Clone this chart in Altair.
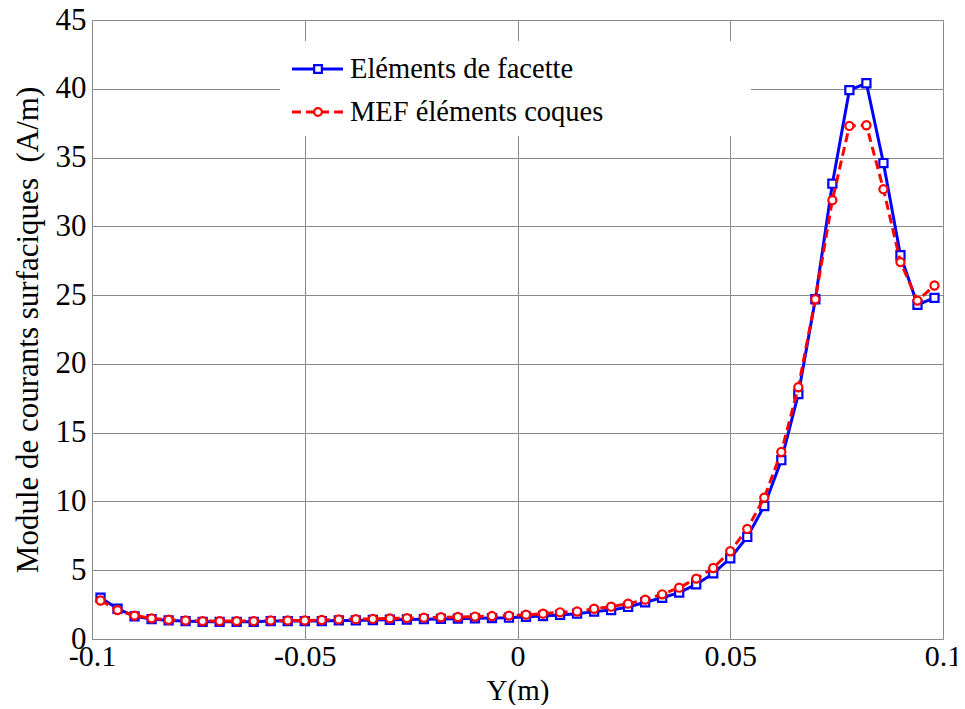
import altair as alt
import pandas as pd

# ---- data ----
x_vals = [-0.098, -0.094, -0.090, -0.086, -0.082, -0.078, -0.074, -0.070, -0.066, -0.062,
          -0.058, -0.054, -0.050, -0.046, -0.042, -0.038, -0.034, -0.030, -0.026, -0.022,
          -0.018, -0.014, -0.010, -0.006, -0.002, 0.002, 0.006, 0.010, 0.014, 0.018,
          0.022, 0.026, 0.030, 0.034, 0.038, 0.042, 0.046, 0.050, 0.054, 0.058,
          0.062, 0.066, 0.070, 0.074, 0.078, 0.082, 0.086, 0.090, 0.094, 0.098]

facette = [3.0, 2.2, 1.65, 1.45, 1.35, 1.3, 1.25, 1.25, 1.25, 1.25,
           1.3, 1.3, 1.3, 1.3, 1.35, 1.35, 1.38, 1.4, 1.42, 1.44,
           1.46, 1.48, 1.5, 1.52, 1.55, 1.62, 1.67, 1.75, 1.84, 1.99,
           2.1, 2.33, 2.67, 3.0, 3.37, 3.97, 4.77, 5.87, 7.42, 9.67,
           13.0, 17.8, 24.7, 33.1, 39.9, 40.4, 34.6, 27.9, 24.3, 24.8]

coques = [2.8, 2.1, 1.7, 1.5, 1.4, 1.35, 1.3, 1.3, 1.3, 1.3,
          1.35, 1.35, 1.35, 1.38, 1.42, 1.44, 1.46, 1.5, 1.52, 1.55,
          1.58, 1.6, 1.63, 1.67, 1.7, 1.77, 1.84, 1.94, 2.0, 2.2,
          2.35, 2.57, 2.86, 3.25, 3.73, 4.39, 5.16, 6.38, 8.0, 10.28,
          13.6, 18.3, 24.7, 31.9, 37.3, 37.35, 32.7, 27.4, 24.6, 25.7]

series_names = ["Eléments de facette", "MEF éléments coques"]
x_ticks = [-0.1, -0.05, 0, 0.05, 0.1]
y_ticks = [0, 5, 10, 15, 20, 25, 30, 35, 40, 45]

df_f = pd.DataFrame({"x": x_vals, "y": facette})
df_c = pd.DataFrame({"x": x_vals, "y": coques})

FONT = "Liberation Serif"
BLUE = "#0000ff"
RED = "#ff0000"

xs = alt.Scale(domain=[-0.1, 0.1], nice=False, zero=False)
ys = alt.Scale(domain=[0, 45], nice=False)

x_enc = alt.X("x:Q", scale=xs, title="Y(m)",
              axis=alt.Axis(values=x_ticks, labelExpr="'' + datum.value",
                            grid=True, gridColor="#8a8a8a", gridWidth=1,
                            ticks=False, domain=False, labelFont=FONT, labelFontSize=30,
                            labelColor="black", labelPadding=2, labelFlush=False,
                            labelOverlap=False, titleFont=FONT, titleFontSize=29,
                            titleFontWeight="normal", titleColor="black", titlePadding=5))
y_enc = alt.Y("y:Q", scale=ys, title="Module de courants surfaciques \u00a0(A/m)",
              axis=alt.Axis(values=y_ticks, grid=True, gridColor="#8a8a8a", gridWidth=1,
                            ticks=False, domain=False, labelFont=FONT, labelFontSize=31,
                            labelColor="black", labelPadding=6, labelFlush=False,
                            labelOverlap=False, titleFont=FONT, titleFontSize=31,
                            titleFontWeight="normal", titleColor="black", titlePadding=11))

line_f = alt.Chart(df_f).mark_line(color=BLUE, strokeWidth=3).encode(x=x_enc, y=y_enc)
pts_f = alt.Chart(df_f).mark_square(fill="white", stroke=BLUE, strokeWidth=2.2,
                                    size=66, opacity=1).encode(x="x:Q", y="y:Q")
line_c = alt.Chart(df_c).mark_line(color=RED, strokeWidth=3,
                                   strokeDash=[9, 5]).encode(x="x:Q", y="y:Q")
pts_c = alt.Chart(df_c).mark_circle(fill="white", stroke=RED, strokeWidth=2.2,
                                    size=66, opacity=1).encode(x="x:Q", y="y:Q")

# ---- legend (white box, sample lines with markers, labels) ----
leg_box = alt.Chart(pd.DataFrame({"a": [0]})).mark_rect(fill="white").encode(
    x=alt.value(188), x2=alt.value(659), y=alt.value(21), y2=alt.value(116))

legend_rows = [(series_names[0], BLUE, [1, 0], "square", 49),
               (series_names[1], RED, [9, 5], "circle", 92)]
leg_layers = [leg_box]
for name, col, dash, shp, yy in legend_rows:
    d = pd.DataFrame({"name": [name]})
    leg_layers.append(alt.Chart(d).mark_rule(color=col, strokeWidth=3, strokeDash=dash).encode(
        x=alt.value(200), x2=alt.value(251), y=alt.value(yy)))
    leg_layers.append(alt.Chart(d).mark_point(shape=shp, filled=True, fill="white", stroke=col,
                                              strokeWidth=2.2, size=60, opacity=1).encode(
        x=alt.value(226), y=alt.value(yy)))
    leg_layers.append(alt.Chart(d).mark_text(align="left", baseline="middle", font=FONT,
                                             fontSize=28.5, color="black").encode(
        x=alt.value(258), y=alt.value(yy), text="name:N"))

chart = alt.layer(line_f, pts_f, line_c, pts_c, *leg_layers).properties(
    width=851, height=619,
    autosize=alt.AutoSizeParams(type="none"),
    padding={"left": 84, "top": 12, "right": 14, "bottom": 66},
).configure_view(stroke="black", strokeWidth=1.5).configure(background="white")

chart.save("out.html", embed_options={"renderer": "svg", "actions": False})
